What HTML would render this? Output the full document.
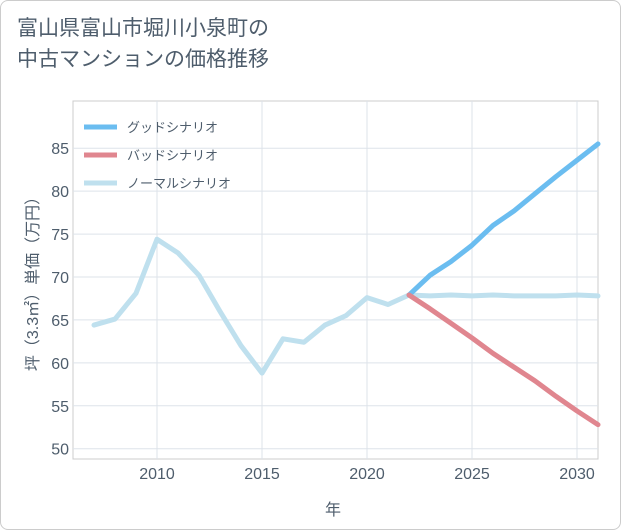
<!DOCTYPE html>
<html><head><meta charset="utf-8"><style>
html,body{margin:0;padding:0;background:#fff;}
#wrap{position:relative;width:619px;height:528px;border:1px solid #ccc;border-radius:8px;overflow:hidden;font-family:"Liberation Sans","Noto Sans CJK JP",sans-serif;}
h1{position:absolute;left:16px;top:12px;margin:0;font-size:21px;font-weight:normal;color:#4e5d6c;line-height:31px;}
</style></head><body>
<div id="wrap">
<h1>富山県富山市堀川小泉町の<br>中古マンションの価格推移</h1>
<svg id="c" width="621" height="530" style="position:absolute;left:0;top:0"></svg>
</div>
<script>
const years=[2007,2008,2009,2010,2011,2012,2013,2014,2015,2016,2017,2018,2019,2020,2021,2022,2023,2024,2025,2026,2027,2028,2029,2030,2031];
const normal=[64.4,65.1,68.1,74.4,72.8,70.2,66,62,58.8,62.8,62.4,64.4,65.5,67.6,66.8,67.9,67.8,67.9,67.8,67.9,67.8,67.8,67.8,67.9,67.8];
const goodYears=[2022,2023,2024,2025,2026,2027,2028,2029,2030,2031];
const good=[67.9,70.2,71.8,73.7,76,77.7,79.7,81.7,83.6,85.5];
const bad=[67.9,66.3,64.6,62.9,61.1,59.5,57.9,56.1,54.4,52.8];
const xTicks=[2010,2015,2020,2025,2030];
const yTicks=[50,55,60,65,70,75,80,85];
const L=72,R=597,T=100,B=458,x0=2006,x1=2031,y0=48.8,y1=90.5;
const X=v=>L+(v-x0)/(x1-x0)*(R-L);
const Y=v=>B-(v-y0)/(y1-y0)*(B-T);
const svg=document.getElementById('c');const NS='http://www.w3.org/2000/svg';
function mk(t,a,p){const e=document.createElementNS(NS,t);for(const k in a)e.setAttribute(k,a[k]);(p||svg).appendChild(e);return e;}
let e=mk('rect',{x:L,y:T,width:R-L,height:B-T,fill:'none',stroke:'#ccc'});


for(const t of xTicks){
 e=mk('line',{x1:X(t),x2:X(t),y1:T,y2:B,stroke:'#dde3ea'});
 
 
 e=mk('text',{x:X(t),y:B+20,'text-anchor':'middle','font-size':16,fill:'#4e5d6c'});e.textContent=t;
 
 
}
for(const t of yTicks){
 e=mk('line',{x1:L,x2:R,y1:Y(t),y2:Y(t),stroke:'#dde3ea'});
 
 
 e=mk('text',{x:L-4,y:Y(t)+6,'text-anchor':'end','font-size':16,fill:'#4e5d6c'});e.textContent=t;
 
 
}
e=mk('text',{x:332,y:514,'text-anchor':'middle','font-size':16,fill:'#4e5d6c'});e.textContent='年';


e=mk('text',{x:0,y:0,'text-anchor':'middle','font-size':16,fill:'#4e5d6c',transform:'translate(37,279) rotate(-90)'});e.textContent='坪（3.3㎡）単価（万円）';


function line(xs,ys,c,n){const d=xs.map((v,i)=>(i?'L':'M')+X(v)+','+Y(ys[i])).join('');
 const p=mk('path',{d:d,fill:'none',stroke:c,'stroke-width':5,'stroke-linejoin':'round','stroke-linecap':'round'});
 
 }
line(years,normal,'#bfe0ee','normal-line');
line(goodYears,good,'#6bbdf0','good-line');
line(goodYears,bad,'#e0868f','bad-line');
const leg=[['グッドシナリオ','#6bbdf0'],['バッドシナリオ','#e0868f'],['ノーマルシナリオ','#bfe0ee']];
leg.forEach((l,i)=>{const y=126+i*28;
 const g=mk('g',{});
 mk('line',{x1:83,x2:116,y1:y,y2:y,stroke:l[1],'stroke-width':5},g);
 const t=mk('text',{x:126,y:y+5,'font-size':13,fill:'#4e5d6c'},g);t.textContent=l[0];});
</script>
</body></html>
